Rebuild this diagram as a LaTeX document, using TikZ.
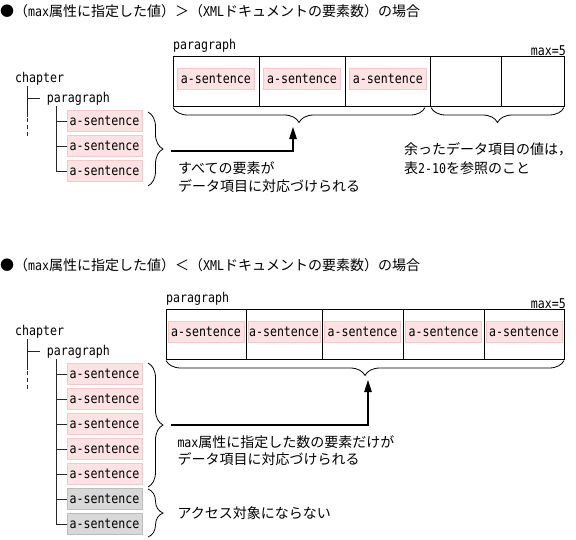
\documentclass[tikz,border=0pt]{standalone}
\usepackage{fontspec}
\setmainfont{Noto Sans CJK JP}
\newfontfamily\latmono[FakeStretch=0.86]{DejaVu Sans Mono}
\usetikzlibrary{decorations.pathreplacing,arrows.meta}
\definecolor{pinkfill}{RGB}{252,226,226}
\definecolor{pinkedge}{RGB}{246,200,200}
\definecolor{grayfill}{RGB}{216,216,216}
\definecolor{grayedge}{RGB}{188,188,188}
\newcommand\halfw[1]{{\latmono\fontsize{13.5pt}{16pt}\selectfont #1}}
\begin{document}
\begin{tikzpicture}[x=1pt,y=-1pt,
  jp/.style={font=\fontsize{14pt}{18pt}\selectfont, inner sep=0pt, anchor=base west},
  mono/.style={font=\latmono\fontsize{13.5pt}{16pt}\selectfont, inner sep=0pt},
  pinkbox/.style={mono, draw=pinkedge, fill=pinkfill, line width=0.8pt, minimum width=75pt, minimum height=21pt, text height=9.5pt, text depth=0pt},
  graybox/.style={pinkbox, draw=grayedge, fill=grayfill},
  cell/.style={draw=black, line width=0.9pt, minimum height=50pt, inner sep=0pt, anchor=north west},
  treeline/.style={line width=0.9pt, draw=black!85},
  sbrace/.style={decorate, decoration={brace, amplitude=15pt}, line width=0.8pt},
  arr/.style={line width=1.1pt, -{Triangle[length=12pt,width=7.5pt]}},
]
\useasboundingbox (0,0) rectangle (576,539);

% ---------------- upper section ----------------
\node[jp] (title1) at (0,16.5) {●（\halfw{max}属性に指定した値）＞（\halfw{XML}ドキュメントの要素数）の場合};

\node[mono, anchor=base west] (tpar1) at (173,49) {paragraph};
\node[mono, anchor=base east] (tmax1) at (566,55) {max=5};

\node[cell, minimum width=85.7pt] (u1) at (173,56) {};
\node[cell, minimum width=86.6pt] (u2) at (258.7,56) {};
\node[cell, minimum width=85pt] (u3) at (345.3,56) {};
\node[cell, minimum width=71pt] (u4) at (430.3,56) {};
\node[cell, minimum width=62.7pt] (u5) at (501.3,56) {};

\node[pinkbox, minimum width=77pt] (ub1) at (215.9,78.5) {a-sentence};
\node[pinkbox, minimum width=77pt] (ub2) at (302,78.5) {a-sentence};
\node[pinkbox, minimum width=77pt] (ub3) at (387.8,78.5) {a-sentence};

\draw[sbrace] (425,107.5) -- (173,107.5);
\draw[sbrace] (564,107.5) -- (431,107.5);

% tree
\node[mono, anchor=base west] (uch) at (15,82) {chapter};
\node[mono, anchor=base west] (upa) at (46.7,102) {paragraph};
\draw[treeline] (27.3,86) |- ([xshift=-6.5pt]upa.west);
\draw[treeline] (27.3,98) -- (27.3,117);
\draw[treeline, dash pattern=on 4pt off 3pt] (27.3,118) -- (27.3,137);

\node[pinkbox] (us1) at (104.5,121) {a-sentence};
\node[pinkbox] (us2) at (104.5,146) {a-sentence};
\node[pinkbox] (us3) at (104.5,171) {a-sentence};
\draw[treeline] (56,106) |- (us1.west);
\draw[treeline] (56,106) |- (us2.west);
\draw[treeline] (56,106) |- (us3.west);

\draw[sbrace] (148,112) -- (148,186);
\coordinate (ua0) at (171,151);
\coordinate (ua1) at (293,127);
\draw[arr] (ua0) -| (ua1);

\node[jp] (ut1) at (178,173) {すべての要素が};
\node[jp] (ut2) at (178,191) {データ項目に対応づけられる};
\node[jp] (ut3) at (404,154.5) {余ったデータ項目の値は，};
\node[jp] (ut4) at (404,173) {表\halfw{2-10}を参照のこと};

% ---------------- lower section ----------------
\node[jp] (title2) at (0,270.5) {●（\halfw{max}属性に指定した値）＜（\halfw{XML}ドキュメントの要素数）の場合};

\node[mono, anchor=base west] (tpar2) at (166,302) {paragraph};
\node[mono, anchor=base east] (tmax2) at (566,308) {max=5};

\node[cell, minimum width=80pt] (l1) at (166,309) {};
\node[cell, minimum width=76pt] (l2) at (246,309) {};
\node[cell, minimum width=81pt] (l3) at (322,309) {};
\node[cell, minimum width=81pt] (l4) at (403,309) {};
\node[cell, minimum width=80pt] (l5) at (484,309) {};

\node[pinkbox, minimum width=76pt] (lb1) at (206,331.5) {a-sentence};
\node[pinkbox, minimum width=72pt] (lb2) at (284,331.5) {a-sentence};
\node[pinkbox, minimum width=76pt] (lb3) at (362.5,331.5) {a-sentence};
\node[pinkbox, minimum width=76pt] (lb4) at (443.5,331.5) {a-sentence};
\node[pinkbox, minimum width=76pt] (lb5) at (524,331.5) {a-sentence};

\draw[sbrace] (564,360.5) -- (166,360.5);

% tree
\node[mono, anchor=base west] (lch) at (15,335) {chapter};
\node[mono, anchor=base west] (lpa) at (46.7,355) {paragraph};
\draw[treeline] (27.3,339) |- ([xshift=-6.5pt]lpa.west);
\draw[treeline] (27.3,351) -- (27.3,370);
\draw[treeline, dash pattern=on 4pt off 3pt] (27.3,371) -- (27.3,390);

\node[pinkbox] (ls1) at (104.5,374) {a-sentence};
\node[pinkbox] (ls2) at (104.5,399) {a-sentence};
\node[pinkbox] (ls3) at (104.5,424) {a-sentence};
\node[pinkbox] (ls4) at (104.5,449) {a-sentence};
\node[pinkbox] (ls5) at (104.5,474) {a-sentence};
\node[graybox] (ls6) at (104.5,499) {a-sentence};
\node[graybox] (ls7) at (104.5,524) {a-sentence};
\foreach \n in {1,...,7}{
  \draw[treeline] (56,359) |- (ls\n.west);
}

\draw[sbrace] (148,363) -- (148,487);
\draw[sbrace] (148,489) -- (148,537);
\coordinate (la0) at (171,425);
\coordinate (la1) at (368,380);
\draw[arr] (la0) -| (la1);

\node[jp] (lt1) at (177.3,447.5) {\halfw{max}属性に指定した数の要素だけが};
\node[jp] (lt2) at (177.3,464) {データ項目に対応づけられる};
\node[jp] (lt3) at (177.3,518.5) {アクセス対象にならない};
\end{tikzpicture}
\end{document}
